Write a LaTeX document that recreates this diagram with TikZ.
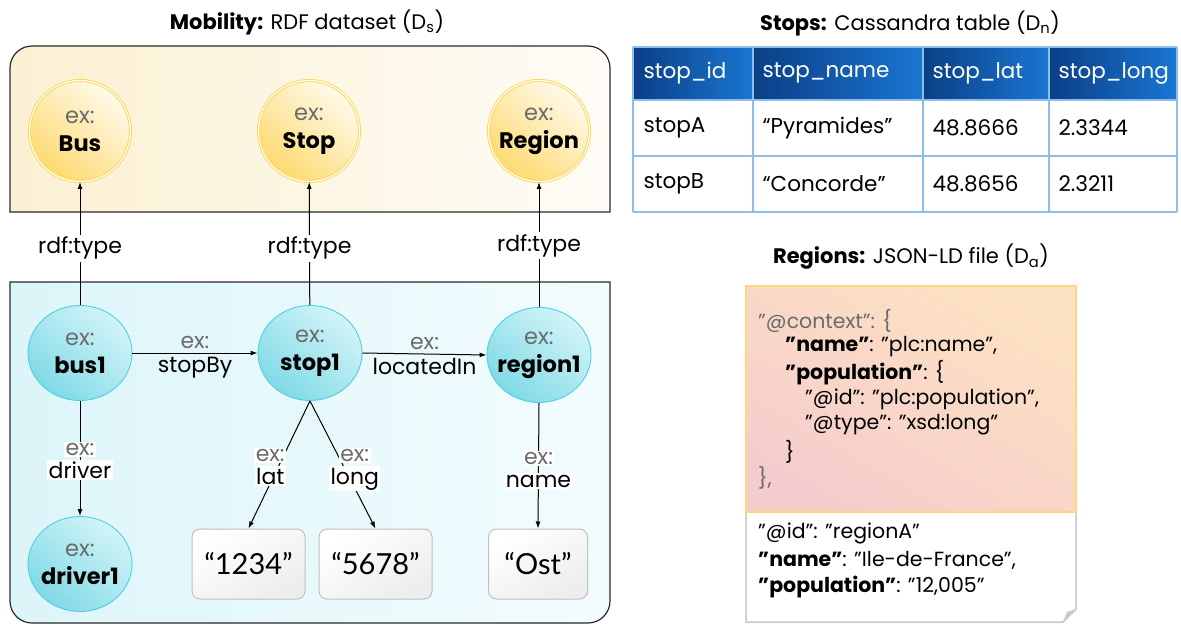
\documentclass[tikz,border=0pt]{standalone}
\usepackage{fontspec}
\setmainfont{Poppins}
\newfontfamily\valfont{Lato}
\usetikzlibrary{arrows.meta,shapes.geometric}

\definecolor{exgray}{HTML}{6B6B6B}
\definecolor{ylwline}{HTML}{FFD54F}
\definecolor{ylwlight}{HTML}{FFFAEB}
\definecolor{ylwdark}{HTML}{FDDA70}
\definecolor{cyanline}{HTML}{4DD0E1}
\definecolor{cyanlight}{HTML}{D2F4F8}
\definecolor{cyandark}{HTML}{80DAE6}
\definecolor{upleft}{HTML}{FBF0D3}
\definecolor{upright}{HTML}{FEFCF6}
\definecolor{lowleft}{HTML}{DCF5F9}
\definecolor{lowright}{HTML}{F3FCFE}
\definecolor{valline}{HTML}{C0C0C0}
\definecolor{valdark}{HTML}{EDEDED}
\definecolor{hdrdark}{HTML}{0B3F86}
\definecolor{hdrlight}{HTML}{1A76D2}
\definecolor{tblline}{HTML}{8FBDEA}
\definecolor{jsonA}{HTML}{FDE2C2}
\definecolor{jsonB}{HTML}{F5CCCD}
\definecolor{jsonline}{HTML}{FDD77A}
\definecolor{pageline}{HTML}{C9C9C9}
\definecolor{boxline}{HTML}{2A2A2A}

\newcommand{\nodetext}[1]{\makebox[0pt]{\color{exgray}ex:}\\\makebox[0pt]{\bfseries #1}}
\newcommand{\fs}[2]{\fontsize{#1}{#2}\selectfont}

\begin{document}
\begin{tikzpicture}[x=1pt,y=-1pt,
  arr/.style={-{Latex[length=7pt,width=5pt]}, line width=1pt, black},
  classnode/.style={circle, minimum size=101pt, inner sep=0pt, align=center,
    draw=ylwline, double=white, double distance=1.2pt, line width=0.9pt,
    top color=ylwlight, bottom color=ylwdark, shading angle=-40,
    font=\fs{22.5}{28}},
  instnode/.style={ellipse, minimum width=104pt, minimum height=95pt, inner sep=0pt,
    align=center, draw=cyanline, line width=0.9pt,
    top color=cyanlight, bottom color=cyandark, shading angle=-40,
    font=\fs{22.5}{28}},
  valnode/.style={rectangle, rounded corners=8pt, draw=valline, line width=1pt,
    minimum width=113pt, minimum height=70pt, top color=white, bottom color=valdark,
    shading angle=30, font=\valfont\fs{29}{32}},
  typelbl/.style={fill=white, inner sep=2pt, font=\fs{22}{26}},
  plainlbl/.style={inner sep=1pt, font=\fs{22}{26}},
  boxlbl/.style={fill=white, inner sep=1.5pt, font=\fs{22}{26}},
  title/.style={font=\fs{21}{25}},
  hdrtext/.style={anchor=west, text=white, font=\fs{21.5}{25}},
  celltext/.style={anchor=west, font=\fs{21.5}{25}},
  jsontext/.style={anchor=west, inner sep=0pt, font=\fs{20.5}{24}}
]
\useasboundingbox (0,0) rectangle (1181,624);

% ---------- RDF dataset ----------
\node[title] (t1) at (307,22) {\textbf{Mobility:} RDF dataset (D\textsubscript{s})};

% schema layer (rounded at the top)
\path[draw=boxline, line width=1.2pt, left color=upleft, right color=upright]
  (10,212) -- (10,120) [rounded corners=22pt] -- (10,46) -- (610,46) -- (610,120)
  [sharp corners] -- (610,212) -- cycle;
% instance layer (rounded at the bottom)
\path[draw=boxline, line width=1.2pt, left color=lowleft, right color=lowright]
  (10,282) -- (610,282) -- (610,500) [rounded corners=22pt] -- (610,623) -- (10,623)
  -- (10,500) [sharp corners] -- cycle;

\node[classnode] (Bus)    at (80,131)  {\nodetext{Bus}};
\node[classnode] (Stop)   at (309,131) {\nodetext{Stop}};
\node[classnode] (Region) at (539,131) {\nodetext{Region}};

\node[instnode] (bus1)    at (80,353)  {\nodetext{bus1}};
\node[instnode] (stop1)   at (310,353) {\nodetext{stop1}};
\node[instnode] (region1) at (539,355) {\nodetext{region1}};
\node[instnode] (driver1) at (80,564)  {\nodetext{driver1}};

\node[valnode] (v1234) at (248.5,564) {“1234”};
\node[valnode] (v5678) at (375.5,564) {“5678”};
\node[valnode, minimum width=99pt] (vOst) at (538,564) {“Ost”};

% rdf:type links
\draw[arr] (bus1) -- node[typelbl, pos=0.46] {rdf:type} (Bus);
\draw[arr] (stop1) -- node[typelbl, pos=0.46] {rdf:type} (Stop);
\draw[arr] (region1) -- node[typelbl, pos=0.49] {rdf:type} (Region);

% object properties
\draw[arr] (bus1) -- node[plainlbl, above=3pt, text=exgray] {ex:} node[plainlbl, below=3pt] {stopBy} (stop1);
\draw[arr] (stop1.east) -- node[plainlbl, above=3pt, text=exgray] {ex:} node[plainlbl, below=3pt] {locatedIn} (region1.west);
\draw[arr] (bus1) -- node[boxlbl, anchor=south, text=exgray, pos=0.5, yshift=1pt] {ex:} node[boxlbl, anchor=north, pos=0.5, yshift=-1pt] {driver} (driver1);

% datatype properties
\draw[arr] (stop1.south) -- node[boxlbl, anchor=south, text=exgray, pos=0.5, xshift=-9pt, yshift=1pt] {ex:} node[boxlbl, anchor=north, pos=0.5, xshift=-9pt, yshift=-1pt] {lat} (v1234.north);
\draw[arr] (stop1.south) -- node[boxlbl, anchor=south, text=exgray, pos=0.5, xshift=12pt, yshift=1pt] {ex:} node[boxlbl, anchor=north, pos=0.5, xshift=12pt, yshift=-1pt] {long} (v5678.north);
\draw[arr] (region1.south) -- node[boxlbl, anchor=south, text=exgray, pos=0.5, yshift=-1pt] {ex:} node[boxlbl, anchor=north, pos=0.5, yshift=-7pt] {name} (vOst.north);

% ---------- Cassandra table ----------
\node[title] (t2) at (910,23) {\textbf{Stops:} Cassandra table (D\textsubscript{n})};

\foreach \xa/\xb in {633/753, 753/923, 923/1049, 1049/1177}
  \shade[left color=hdrdark, right color=hdrlight] (\xa,47) rectangle (\xb,100);
\fill[white] (633,100) rectangle (1177,212);
\foreach \xx in {633,753,923,1049,1177}
  \draw[tblline, line width=1.2pt] (\xx,47) -- (\xx,212);
\foreach \yy in {47,100,156,212}
  \draw[tblline, line width=1.2pt] (633,\yy) -- (1177,\yy);

\node[hdrtext] (h1) at (640,73) {stop\_id};
\node[hdrtext] (h2) at (759,73) {stop\_name};
\node[hdrtext] (h3) at (929,73) {stop\_lat};
\node[hdrtext] (h4) at (1055,73) {stop\_long};
\node[celltext] (a1) at (640,128) {stopA};
\node[celltext] (a2) at (759,128) {“Pyramides”};
\node[celltext] (a3) at (929,128) {48.8666};
\node[celltext] (a4) at (1055,128) {2.3344};
\node[celltext] (b1) at (640,184) {stopB};
\node[celltext] (b2) at (759,184) {“Concorde”};
\node[celltext] (b3) at (929,184) {48.8656};
\node[celltext] (b4) at (1055,184) {2.3211};

% ---------- JSON-LD file ----------
\node[title] (t3) at (911,257) {\textbf{Regions:} JSON-LD file (D\textsubscript{a})};

\path[draw=pageline, line width=1.5pt, fill=white]
  (746,512) -- (746,622) -- (1063,622) -- (1076,609) -- (1076,512);
\fill[pageline] (1063,622) -- (1076,609) -- (1067,612) -- cycle;
\path[draw=jsonline, line width=1.2pt, top color=jsonA, bottom color=jsonB, shading angle=-30]
  (746,286) rectangle (1076,512);

\node[jsontext, text=exgray] (j1) at (758,321) {"@context": \{};
\node[jsontext] (j2) at (785,347) {\textbf{"name"}: "plc:name",};
\node[jsontext] (j3) at (785,373) {\textbf{"population"}: \{};
\node[jsontext] (j4) at (805,399) {"@id": "plc:population",};
\node[jsontext] (j5) at (805,425) {"@type": "xsd:long"};
\node[jsontext] (j6) at (785,452) {\}};
\node[jsontext, text=exgray] (j7) at (758,478) {\},};
\node[jsontext] (k1) at (758,533) {"@id": "regionA"};
\node[jsontext] (k2) at (758,560) {\textbf{"name"}: "Ile-de-France",};
\node[jsontext] (k3) at (758,587) {\textbf{"population"}: "12,005"};
\end{tikzpicture}
\end{document}
